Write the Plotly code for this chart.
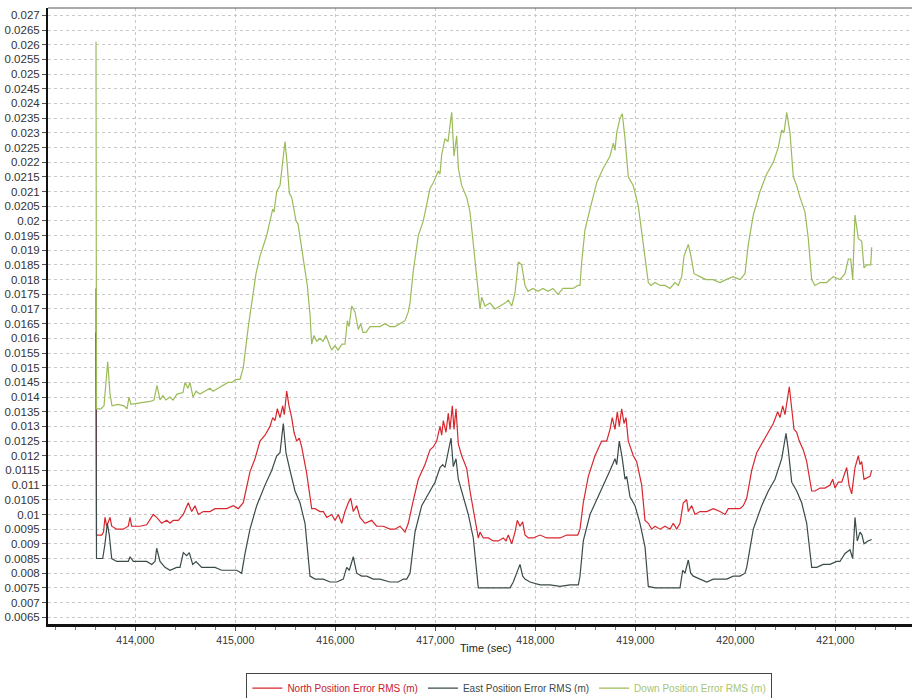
import plotly.graph_objects as go

# ---------------- data ----------------
down_t = [413607, 413612, 413657, 413687, 413724, 413747, 413767, 413827, 413887, 413917,
          413937, 413957, 414047, 414147, 414187, 414217, 414247, 414277, 414307, 414347,
          414377, 414417, 414477, 414497, 414527, 414547, 414577, 414607, 414647, 414697,
          414747, 414777, 414827, 414877, 414927, 414967, 415007, 415047, 415080, 415130,
          415164, 415207, 415247, 415314, 415347, 415374, 415387, 415414, 415447, 415477,
          415497, 415517, 415540, 415564, 415587, 415607, 415627, 415647, 415680, 415720,
          415747, 415764, 415787, 415814, 415847, 415877, 415907, 415940, 415964, 415997,
          416027, 416067, 416097, 416120, 416137, 416164, 416197, 416230, 416254, 416277,
          416307, 416347, 416397, 416447, 416497, 416547, 416597, 416647, 416697, 416730,
          416747, 416780, 416830, 416880, 416947, 416980, 417030, 417047, 417064, 417097,
          417127, 417164, 417187, 417214, 417230, 417264, 417314, 417347, 417380, 417414,
          417447, 417464, 417497, 417547, 417597, 417647, 417697, 417730, 417764, 417797,
          417830, 417864, 417897, 417927, 417977, 418027, 418077, 418127, 418177, 418227,
          418277, 418327, 418377, 418427, 418447, 418464, 418497, 418547, 418614, 418680,
          418747, 418780, 418797, 418814, 418847, 418870, 418897, 418930, 418980, 419030,
          419080, 419130, 419157, 419197, 419247, 419297, 419347, 419397, 419430, 419464,
          419487, 419530, 419557, 419587, 419647, 419707, 419777, 419847, 419907, 419977,
          420047, 420097, 420130, 420180, 420247, 420314, 420380, 420430, 420464, 420487,
          420514, 420547, 420580, 420614, 420647, 420697, 420730, 420764, 420797, 420847,
          420914, 420980, 421047, 421097, 421130, 421154, 421174, 421197, 421230, 421264,
          421287, 421317, 421354, 421364]
down_v = [0.0261, 0.0136, 0.0136, 0.0137, 0.0152, 0.0141, 0.0137, 0.01375, 0.0137, 0.0136,
          0.0140, 0.01375, 0.0138, 0.01385, 0.0139, 0.0144, 0.0139, 0.01405, 0.0139, 0.0140,
          0.0139, 0.0141, 0.01415, 0.0145, 0.0143, 0.0145, 0.0140, 0.0142, 0.0141, 0.0142,
          0.0143, 0.0142, 0.0143, 0.0144, 0.0145, 0.0145, 0.0146, 0.0146, 0.0150, 0.0164,
          0.01725, 0.0182, 0.0188, 0.0195, 0.0200, 0.0204, 0.0203, 0.0210, 0.0212, 0.0220,
          0.0227, 0.0220, 0.02095, 0.0208, 0.0203, 0.0200, 0.0199, 0.0195, 0.0187, 0.0178,
          0.0168, 0.0158, 0.0161, 0.0159, 0.0160, 0.0159, 0.0161, 0.0158, 0.0156, 0.01575,
          0.0156, 0.0158, 0.0158, 0.0166, 0.0164, 0.0171, 0.0169, 0.0163, 0.0165, 0.0162,
          0.0162, 0.0164, 0.0164, 0.0164, 0.0165, 0.0164, 0.0164, 0.0165, 0.0166, 0.0169,
          0.0172, 0.0183, 0.0195, 0.0200, 0.0211, 0.0213, 0.0217, 0.0216, 0.02225, 0.0228,
          0.0227, 0.0237, 0.0222, 0.0229, 0.0218, 0.0212, 0.0208, 0.0203, 0.0191, 0.0181,
          0.0170, 0.0174, 0.0171, 0.0172, 0.0170, 0.0171, 0.0172, 0.0173, 0.0171, 0.01755,
          0.0186, 0.0185, 0.0178, 0.0176, 0.0177, 0.0176, 0.0177, 0.0176, 0.0177, 0.0175,
          0.0177, 0.0177, 0.0177, 0.0178, 0.0178, 0.0186, 0.0197, 0.0204, 0.0213, 0.0218,
          0.0222, 0.02265, 0.0224, 0.0230, 0.0235, 0.02365, 0.0228, 0.0215, 0.0212, 0.0205,
          0.0191, 0.0179, 0.0178, 0.0179, 0.0178, 0.0178, 0.0177, 0.0179, 0.0178, 0.0181,
          0.0188, 0.0192, 0.0188, 0.0182, 0.0181, 0.0180, 0.0180, 0.0179, 0.0180, 0.0181,
          0.0180, 0.0182, 0.0192, 0.0202, 0.0210, 0.0216, 0.0220, 0.0225, 0.0231, 0.0230,
          0.0237, 0.0230, 0.0215, 0.0212, 0.0208, 0.0203, 0.0194, 0.0180, 0.0178, 0.0179,
          0.0179, 0.0181, 0.0180, 0.0182, 0.0187, 0.0187, 0.0180, 0.0202, 0.0194, 0.0193,
          0.0184, 0.0185, 0.0185, 0.0191]

north_t = [413607, 413612, 413664, 413682, 413697, 413714, 413747, 413764, 413814, 413880,
           413930, 413947, 413964, 414047, 414114, 414180, 414214, 414264, 414314, 414347,
           414380, 414430, 414480, 414530, 414564, 414597, 414630, 414680, 414747, 414797,
           414847, 414914, 414980, 415030, 415080, 415114, 415147, 415197, 415247, 415297,
           415347, 415374, 415397, 415420, 415447, 415474, 415490, 415514, 415537, 415564,
           415587, 415614, 415640, 415664, 415714, 415764, 415797, 415847, 415880, 415914,
           415964, 415997, 416030, 416064, 416097, 416130, 416154, 416180, 416214, 416247,
           416297, 416364, 416414, 416480, 416547, 416597, 416647, 416697, 416730, 416780,
           416830, 416897, 416947, 416980, 417014, 417047, 417064, 417080, 417107, 417130,
           417147, 417170, 417187, 417207, 417230, 417264, 417314, 417347, 417387, 417430,
           417447, 417480, 417530, 417580, 417630, 417680, 417707, 417730, 417764, 417797,
           417820, 417847, 417874, 417897, 417930, 417980, 418047, 418114, 418180, 418247,
           418314, 418380, 418424, 418447, 418480, 418530, 418597, 418664, 418714, 418747,
           418770, 418797, 418820, 418840, 418864, 418887, 418907, 418930, 418980, 419014,
           419064, 419097, 419130, 419164, 419197, 419247, 419297, 419347, 419380, 419414,
           419447, 419480, 419514, 419530, 419564, 419597, 419647, 419714, 419780, 419847,
           419897, 419930, 419980, 420047, 420080, 420114, 420164, 420214, 420280, 420330,
           420380, 420424, 420447, 420474, 420497, 420540, 420564, 420587, 420614, 420640,
           420680, 420714, 420764, 420797, 420847, 420897, 420947, 420974, 420997, 421030,
           421064, 421114, 421137, 421164, 421197, 421230, 421247, 421264, 421287, 421347,
           421364]
north_v = [0.0177, 0.0093, 0.0093, 0.0094, 0.0099, 0.0096, 0.0099, 0.0096, 0.0095, 0.0095,
           0.0096, 0.0099, 0.0096, 0.0096, 0.00965, 0.0100, 0.0099, 0.0097, 0.0098, 0.0097,
           0.0098, 0.0098, 0.0100, 0.0104, 0.0101, 0.0103, 0.0100, 0.0101, 0.0101, 0.0102,
           0.0102, 0.0102, 0.0103, 0.0102, 0.0104, 0.01095, 0.01146, 0.0119, 0.0125, 0.0127,
           0.0130, 0.0133, 0.0132, 0.0136, 0.0133, 0.0137, 0.0134, 0.0142, 0.0137, 0.0133,
           0.0128, 0.0125, 0.0126, 0.0123, 0.0114, 0.0102, 0.0102, 0.0101, 0.0101, 0.0099,
           0.0100, 0.0098, 0.0100, 0.0097, 0.0101, 0.0104, 0.01055, 0.0101, 0.0103, 0.0099,
           0.0097, 0.0098, 0.0096, 0.0096, 0.0095, 0.0095, 0.0096, 0.0094, 0.0097, 0.01048,
           0.0112, 0.0117, 0.0122, 0.0123, 0.0125, 0.0130, 0.0127, 0.0132, 0.0128, 0.01345,
           0.0129, 0.0137, 0.0129, 0.0136, 0.0124, 0.0120, 0.01157, 0.0108, 0.0100, 0.0092,
           0.0094, 0.0092, 0.0092, 0.0091, 0.0091, 0.0092, 0.0091, 0.0093, 0.0090, 0.0094,
           0.0098, 0.0096, 0.00975, 0.0093, 0.0092, 0.0092, 0.0093, 0.0092, 0.0092, 0.0092,
           0.0093, 0.0093, 0.0093, 0.0095, 0.0104, 0.0113, 0.0120, 0.0125, 0.0125, 0.0129,
           0.0133, 0.0129, 0.0135, 0.0130, 0.0136, 0.0131, 0.0133, 0.0125, 0.0120, 0.0118,
           0.0110, 0.0098, 0.0097, 0.0095, 0.0096, 0.0095, 0.0096, 0.0095, 0.0097, 0.0095,
           0.0097, 0.0104, 0.0105, 0.0101, 0.0103, 0.0100, 0.0101, 0.0101, 0.0102, 0.0101,
           0.0100, 0.0102, 0.0102, 0.0102, 0.0103, 0.01055, 0.0115, 0.0121, 0.0125, 0.0128,
           0.0131, 0.0135, 0.0133, 0.0137, 0.0134, 0.01435, 0.0137, 0.0129, 0.0128, 0.0125,
           0.0122, 0.0118, 0.0108, 0.0108, 0.0109, 0.0109, 0.0110, 0.0112, 0.0109, 0.0111,
           0.0111, 0.0116, 0.0110, 0.0107, 0.0116, 0.0120, 0.0117, 0.0118, 0.0112, 0.0113,
           0.0115]

east_t = [413607, 413612, 413674, 413697, 413720, 413740, 413764, 413814, 413880, 413930,
          413947, 413980, 414047, 414114, 414164, 414197, 414214, 414247, 414297, 414347,
          414414, 414447, 414480, 414514, 414540, 414574, 414607, 414664, 414730, 414797,
          414864, 414930, 415014, 415064, 415097, 415147, 415214, 415297, 415364, 415414,
          415447, 415480, 415507, 415547, 415597, 415647, 415697, 415747, 415797, 415880,
          415947, 416014, 416080, 416114, 416140, 416180, 416214, 416264, 416314, 416380,
          416447, 416547, 416630, 416680, 416714, 416747, 416797, 416864, 416947, 416997,
          417047, 417074, 417097, 417130, 417157, 417180, 417207, 417230, 417280, 417330,
          417380, 417430, 417514, 417597, 417680, 417747, 417780, 417814, 417847, 417874,
          417897, 417947, 418047, 418147, 418247, 418347, 418430, 418447, 418480, 418547,
          418630, 418697, 418747, 418797, 418814, 418840, 418870, 418897, 418914, 418947,
          418997, 419047, 419097, 419130, 419197, 419264, 419314, 419380, 419447, 419474,
          419497, 419530, 419554, 419580, 419647, 419714, 419780, 419847, 419914, 419980,
          420047, 420097, 420114, 420180, 420264, 420330, 420397, 420464, 420507, 420530,
          420564, 420614, 420664, 420714, 420764, 420814, 420880, 420947, 421014, 421047,
          421097, 421147, 421174, 421197, 421220, 421247, 421267, 421287, 421327, 421364]
east_v = [0.0162, 0.0085, 0.0085, 0.0090, 0.0097, 0.0093, 0.0085, 0.0084, 0.0084, 0.0084,
          0.00856, 0.0084, 0.0084, 0.0084, 0.0083, 0.0084, 0.00885, 0.0084, 0.0082, 0.0081,
          0.0082, 0.0082, 0.0087, 0.0086, 0.0087, 0.0083, 0.0084, 0.0082, 0.0082, 0.0082,
          0.0081, 0.0081, 0.0081, 0.0080, 0.00867, 0.0095, 0.0103, 0.0110, 0.0115, 0.0120,
          0.0121, 0.0131, 0.0121, 0.0115, 0.0108, 0.0104, 0.0097, 0.0079, 0.0078, 0.0078,
          0.0077, 0.0077, 0.0078, 0.0082, 0.0081, 0.00856, 0.0080, 0.0079, 0.0079, 0.0078,
          0.0078, 0.0077, 0.0077, 0.0078, 0.0078, 0.0080, 0.0094, 0.0103, 0.0108, 0.0111,
          0.0116, 0.0117, 0.0116, 0.0121, 0.0126, 0.01163, 0.0119, 0.0112, 0.0106, 0.0100,
          0.0092, 0.0075, 0.0075, 0.0075, 0.0075, 0.0075, 0.0077, 0.0080, 0.0083, 0.0079,
          0.0078, 0.0077, 0.0076, 0.0076, 0.00755, 0.0076, 0.0076, 0.0079, 0.0091, 0.0100,
          0.0106, 0.0111, 0.0115, 0.0119, 0.0117, 0.0125, 0.0119, 0.0112, 0.0113, 0.0106,
          0.0103, 0.0097, 0.0089, 0.00755, 0.0075, 0.0075, 0.0075, 0.0075, 0.0075, 0.0081,
          0.0080, 0.00845, 0.0080, 0.0079, 0.0078, 0.0077, 0.0078, 0.0078, 0.0078, 0.0079,
          0.0079, 0.0080, 0.0082, 0.0095, 0.0103, 0.0108, 0.0112, 0.0119, 0.01276, 0.0122,
          0.0111, 0.0108, 0.0104, 0.0097, 0.0082, 0.0082, 0.0083, 0.0083, 0.0084, 0.0084,
          0.00867, 0.0088, 0.0085, 0.0099, 0.0091, 0.0094, 0.0093, 0.0090, 0.0091, 0.00915]

series_names = ["North Position Error RMS (m)", "East Position Error RMS (m)",
                "Down Position Error RMS (m)"]
series_colors = ["#d8262d", "#3b4a4a", "#9bbb59"]
legend_text_colors = ["#c8202a", "#3b4a4a", "#a9c46f"]

y_tick_vals = [0.0065 + 0.0005 * i for i in range(42)]
y_tick_text = ["0.0065", "0.007", "0.0075", "0.008", "0.0085", "0.009", "0.0095", "0.01",
               "0.0105", "0.011", "0.0115", "0.012", "0.0125", "0.013", "0.0135", "0.014",
               "0.0145", "0.015", "0.0155", "0.016", "0.0165", "0.017", "0.0175", "0.018",
               "0.0185", "0.019", "0.0195", "0.02", "0.0205", "0.021", "0.0215", "0.022",
               "0.0225", "0.023", "0.0235", "0.024", "0.0245", "0.025", "0.0255", "0.026",
               "0.0265", "0.027"]
x_tick_vals = [414000, 415000, 416000, 417000, 418000, 419000, 420000, 421000]
x_title = "Time (sec)"

# ---------------- figure ----------------
fig = go.Figure()
for t, v, name, col, lcol in zip([north_t, east_t, down_t], [north_v, east_v, down_v],
                                 series_names, series_colors, legend_text_colors):
    fig.add_trace(go.Scatter(
        x=t, y=v, mode="lines",
        name=f"<span style='color:{lcol}'>{name}</span>",
        line=dict(color=col, width=1.2),
    ))

font_family = "Liberation Sans, Arial, sans-serif"
fig.update_layout(
    width=913, height=698,
    margin=dict(l=48, r=1, t=8, b=74, autoexpand=False),
    paper_bgcolor="white", plot_bgcolor="white",
    font=dict(family=font_family, size=11, color="#333333"),
    showlegend=True,
    legend=dict(
        orientation="h", x=0.534, xanchor="center", y=-0.104, yanchor="middle",
        bordercolor="#444444", borderwidth=1, bgcolor="white",
        font=dict(size=10), itemwidth=30, tracegroupgap=0,
    ),
    xaxis=dict(
        range=[413127, 421767], automargin=False,
        tickvals=x_tick_vals, tickformat=",d",
        showgrid=True, gridcolor="#c8c8c8", griddash="dot", gridwidth=1,
        showline=True, linecolor="#111111", linewidth=3,
        ticks="outside", ticklen=4, tickcolor="#555555",
        minor=dict(dtick=200, tick0=414000, ticks="outside", ticklen=3,
                   tickcolor="#777777", showgrid=False),
        zeroline=False,
        tickfont=dict(size=10.5, color="#333333"),
    ),
    yaxis=dict(
        range=[0.00627, 0.02725], automargin=False,
        tickvals=y_tick_vals, ticktext=y_tick_text,
        showgrid=True, gridcolor="#c8c8c8", griddash="dot", gridwidth=1,
        showline=True, linecolor="#111111", linewidth=2,
        ticks="outside", ticklen=4, tickcolor="#555555",
        zeroline=False,
        tickfont=dict(size=11.5, color="#333333"),
    ),
    shapes=[dict(type="line", xref="paper", yref="paper", x0=0, x1=1, y0=1, y1=1,
                 line=dict(color="#555555", width=1))],
    annotations=[dict(text=x_title, xref="paper", yref="paper", x=0.507, y=-0.039,
                      xanchor="center", yanchor="middle", showarrow=False,
                      font=dict(size=11, color="#222222"))],
)

fig.write_html("out.html", config={"displayModeBar": False},
               post_script="document.body.style.margin='0';document.body.style.overflow='hidden';")
